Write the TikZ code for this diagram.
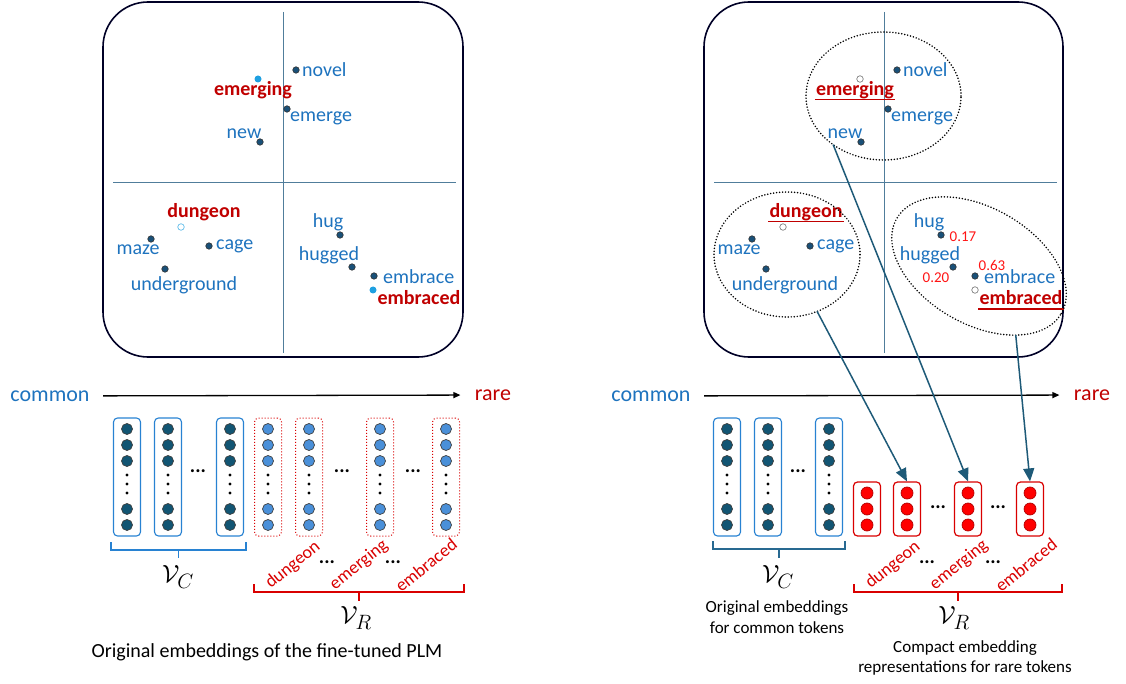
\documentclass[tikz,border=0pt]{standalone}
\usepackage{fontspec}
\setmainfont{Carlito}
\usetikzlibrary{positioning,shapes.geometric,arrows.meta}

\begin{document}
\begin{tikzpicture}[x=1pt,y=-1pt,font=\fontsize{20}{24}\selectfont]

		\useasboundingbox (0,0) rectangle (1126,684);

		\definecolor{WordBlue}{RGB}{30,115,190}
		\definecolor{WordRed}{RGB}{192,0,0}
		\definecolor{NumRed}{RGB}{255,20,20}
		\definecolor{AxisGray}{RGB}{80,125,155}
		\definecolor{PtDark}{RGB}{25,80,120}
		\definecolor{PtCyan}{RGB}{30,160,225}
		\definecolor{EmbDark}{RGB}{18,85,115}
		\definecolor{EmbLight}{RGB}{74,144,217}
		\definecolor{VecBlue}{RGB}{40,130,210}
		\definecolor{MapTeal}{RGB}{30,90,120}
		\definecolor{BrTeal}{RGB}{40,105,145}

		\tikzset{
			plotBox/.style={
				draw=black!85!blue,
				line width=1.6pt,
				rounded corners=45pt,
				minimum width=360pt,
				minimum height=355pt,
				inner sep=0,
				outer sep=0pt,
			},
			axisLine/.style={draw=AxisGray, line width=0.9pt},
			wordBlue/.style={text=WordBlue, inner sep=1pt},
			wordRed/.style={text=WordRed, font=\fontsize{20}{24}\selectfont\bfseries, inner sep=1pt},
			numRed/.style={text=NumRed, font=\fontsize{15}{18}\selectfont, inner sep=1pt},
			ptDark/.style={circle, draw=black!80, fill=PtDark, minimum size=6.5pt, inner sep=0, line width=0.6pt},
			ptCyan/.style={circle, fill=PtCyan, minimum size=7pt, inner sep=0},
			ptHollow/.style={circle, draw=#1, fill=white, minimum size=6.5pt, inner sep=0, line width=0.7pt},
			ptHollow/.default=gray,
			ulRed/.style={draw=WordRed, line width=1.6pt},
			clusterEll/.style={
				ellipse,
				draw=black,
				line width=1.7pt,
				line cap=round,
				dash pattern=on 0pt off 3pt,
				inner sep=0,
				outer sep=0pt,
			},
			mapArrow/.style={draw=MapTeal, line width=1.5pt, -{Triangle[length=13pt,width=11pt]}},
			freqArrow/.style={draw=black, line width=1.3pt, -{Triangle[length=7pt,width=6pt]}, shorten <=10pt, shorten >=11pt},
			vecCommon/.style={draw=VecBlue, line width=1.1pt, rounded corners=4pt, minimum width=27pt, minimum height=118pt, inner sep=0},
			vecRare/.style={draw=red!85!black, line width=1pt, dotted, rounded corners=4pt, minimum width=27pt, minimum height=118pt, inner sep=0},
			vecCompact/.style={draw=red!85!black, line width=1.2pt, rounded corners=4pt, minimum width=27pt, minimum height=54pt, inner sep=0},
			embDark/.style={circle, draw=black!75, fill=EmbDark, minimum size=11pt, inner sep=0, line width=0.7pt},
			embLight/.style={circle, draw=black!75, fill=EmbLight, minimum size=11pt, inner sep=0, line width=0.7pt},
			embRed/.style={circle, draw=red!70!black, fill=red, minimum size=12pt, inner sep=0, line width=0.7pt},
			dotsTxt/.style={font=\fontsize{20}{24}\selectfont\bfseries, inner sep=0},
			rotWord/.style={text=red!85!black, font=\fontsize{18}{22}\selectfont, rotate=39, inner sep=0},
			setName/.style={font=\fontsize{28}{32}\selectfont},
			capTxt/.style={font=\fontsize{17}{20.5}\selectfont, align=center, inner sep=0},
			capBig/.style={font=\fontsize{20}{24}\selectfont, inner sep=0},
		}

		% Plot frames
		\node[plotBox] (plotL) at (283,179.5) {};
		\node[plotBox,minimum width=359pt] (plotR) at (883.5,179.5) {};

		% Axes and common words (same on both sides)
		\foreach \sx/\p in {0/L,601/R} {
			\begin{scope}[xshift=\sx pt]
				\draw[axisLine] (283,12) -- (283,353);
				\draw[axisLine] (113,182) -- (456,182);

				\node[ptDark] (novelDot\p) at (296,70) {};
				\node[wordBlue,anchor=west] (novel\p) at (301,70) {novel};
				\node[ptDark] (emergeDot\p) at (287,109) {};
				\node[wordBlue,anchor=west] (emerge\p) at (289,118) {emerge};
				\node[wordBlue] (new\p) at (244,134) {new};
				\node[ptDark] (newDot\p) at (260,142) {};

				\node[ptDark] (mazeDot\p) at (151,239) {};
				\node[wordBlue] (maze\p) at (138,250) {maze};
				\node[ptDark] (cageDot\p) at (209,246) {};
				\node[wordBlue,anchor=west] (cage\p) at (215,246) {cage};
				\node[ptDark] (ugDot\p) at (165,269) {};
				\node[wordBlue] (ug\p) at (184,285) {underground};

				\node[wordBlue] (hug\p) at (328,222) {hug};
				\node[ptDark] (hugDot\p) at (340,235) {};
				\node[wordBlue] (hugged\p) at (329,255) {hugged};
				\node[ptDark] (huggedDot\p) at (352,267) {};
				\node[ptDark] (embraceDot\p) at (374,276) {};
				\node[wordBlue,anchor=west] (embrace\p) at (382,277) {embrace};
			\end{scope}
		}

		% Rare words, left
		\node[ptCyan] (emgDotL) at (258,79) {};
		\node[wordRed] (emgL) at (253,90) {emerging};
		\node[ptHollow=PtCyan!70] (dunDotL) at (181,227) {};
		\node[wordRed] (dunL) at (204,212) {dungeon};
		\node[ptCyan] (embDotL) at (373,290) {};
		\node[wordRed] (embL) at (419,298) {embraced};

		% Rare words, right
		\node[ptHollow] (emgDotR) at (860,79) {};
		\node[wordRed] (emgR) at (855,90) {emerging};
		\node[ptHollow] (dunDotR) at (783,227) {};
		\node[wordRed] (dunR) at (806,212) {dungeon};
		\node[ptHollow] (embDotR) at (975,290) {};
		\node[wordRed] (embR) at (1021,298) {embraced};
		\foreach \w in {emgR,dunR,embR}
			\draw[ulRed] ([yshift=-4pt]\w.base west) -- ([yshift=-4pt]\w.base east);

		% Weights
		\node[numRed] (wHug) at (963,237) {0.17};
		\node[numRed] (wEmb) at (992,265) {0.63};
		\node[numRed] (wHugged) at (936,278) {0.20};

		% Clusters
		\node[clusterEll,minimum width=155pt,minimum height=128pt] (ellEmg) at (883.5,96) {};
		\node[clusterEll,minimum width=146pt,minimum height=125pt] (ellDun) at (787,254.5) {};
		\node[clusterEll,minimum width=190pt,minimum height=116pt,rotate=-30] (ellEmb) at (979,266) {};

		% Frequency axes
		\node[text=WordBlue,font=\fontsize{22}{26}\selectfont] (comL) at (50,396) {common};
		\node[text=WordRed,font=\fontsize{22}{26}\selectfont] (rareL) at (493,395) {rare};
		\draw[freqArrow] (comL) -- (rareL);
		\node[text=WordBlue,font=\fontsize{22}{26}\selectfont] (comR) at (651,396) {common};
		\node[text=WordRed,font=\fontsize{22}{26}\selectfont] (rareR) at (1092,395) {rare};
		\draw[freqArrow] (comR) -- (rareR);

		% Embedding vectors, left
		\foreach \x [count=\i] in {127,168,230} {
			\node[vecCommon] (comVecL\i) at (\x,477) {};
			\foreach \y [count=\j] in {429,445,461,509,525}
				\node[embDark] (cL\i\j) at (\x,\y) {};
			\foreach \y in {475,484,493}
				\fill (\x,\y) circle (1.7pt);
		}
		\foreach \x [count=\i] in {268,309,380,446} {
			\node[vecRare] (rareVecL\i) at (\x,477) {};
			\foreach \y [count=\j] in {429,445,461,509,525}
				\node[embLight] (rL\i\j) at (\x,\y) {};
			\foreach \y in {475,484,493}
				\fill (\x,\y) circle (1.7pt);
		}

		% Embedding vectors, right
		\foreach \x [count=\i] in {727,768,829} {
			\node[vecCommon] (comVecR\i) at (\x,477) {};
			\foreach \y [count=\j] in {429,445,461,509,525}
				\node[embDark] (cR\i\j) at (\x,\y) {};
			\foreach \y in {475,484,493}
				\fill (\x,\y) circle (1.7pt);
		}
		\foreach \x [count=\i] in {867,907,968,1030} {
			\node[vecCompact] (cmp\i) at (\x,509) {};
			\foreach \y [count=\j] in {493,509,525}
				\node[embRed] (pR\i\j) at (\x,\y) {};
		}

		% Ellipses between vectors
		\foreach \x/\y [count=\i] in {198/471,342/471,413/471,798/471,938/507,998/507}
			\node[dotsTxt] (gap\i) at (\x,\y) {...};

		% Brackets
		\draw[draw=VecBlue,line width=1.5pt] (111,542) -- (111,550) -- (246,550) -- (246,542) (178.5,550) -- (178.5,558);
		\draw[draw=red!85!black,line width=1.5pt] (254,584) -- (254,592) -- (464,592) -- (464,584) (359,592) -- (359,601);
		\draw[draw=BrTeal,line width=1.5pt] (713,541) -- (713,549) -- (845,549) -- (845,541) (779,549) -- (779,558);
		\draw[draw=red!85!black,line width=1.5pt] (854,584) -- (854,592) -- (1062,592) -- (1062,584) (958,592) -- (958,601);

		\node[setName] (vcL) at (178,577) {$\mathcal{V}_C$};
		\node[setName] (vrL) at (356,618) {$\mathcal{V}_R$};
		\node[setName] (vcR) at (778,577) {$\mathcal{V}_C$};
		\node[setName] (vrR) at (954,618) {$\mathcal{V}_R$};

		% Rare token names
		\foreach \sx/\p in {0/L,600/R} {
			\begin{scope}[xshift=\sx pt]
				\node[rotWord] (tDun\p) at (293,565) {dungeon};
				\node[rotWord] (tEmg\p) at (359,565) {emerging};
				\node[rotWord] (tEmb\p) at (426,565) {embraced};
				\node[dotsTxt] (tGapA\p) at (327,562) {...};
				\node[dotsTxt] (tGapB\p) at (393,562) {...};
			\end{scope}
		}

		% Captions
		\node[capBig] (capL) at (267,652) {Original embeddings of the fine-tuned PLM};
		\node[capTxt] (capRC) at (777,617) {Original embeddings\\for common tokens};
		\node[capTxt] (capRR) at (965,658) {Compact embedding\\representations for rare tokens};

		% Mapping arrows
		\draw[mapArrow] (ellDun) -- (cmp2.north);
		\draw[mapArrow] (ellEmg.224) -- (cmp3.north);
		\draw[mapArrow] (ellEmb.-32) -- (cmp4.north);

	\end{tikzpicture}
\end{document}
